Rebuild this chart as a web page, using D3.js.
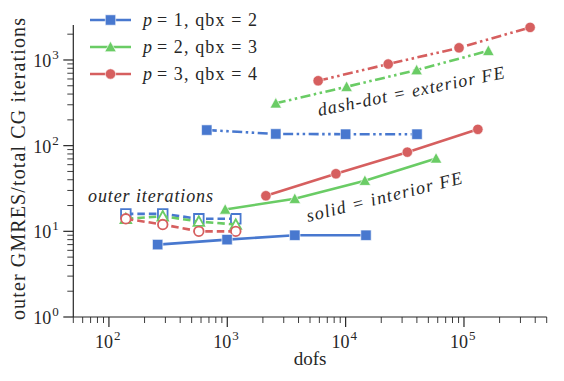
<!DOCTYPE html>
<html>
<head>
<meta charset="utf-8">
<script src="https://cdn.jsdelivr.net/npm/d3@7"></script>
<style>
  body { margin: 0; background: #fff; }
  svg { display: block; font-family: "Liberation Serif", "DejaVu Serif", serif; }
</style>
</head>
<body>
<svg id="chart" width="564" height="381"></svg>
<script>
// colours (seaborn muted)
const colors = ['#4878CF', '#6ACC65', '#D65F5F'];
const legendP = [1, 2, 3];
const legendQbx = [2, 3, 4];
const markers = ['square', 'triangle', 'circle'];

// outer iterations (dashed, hollow markers)
const dofsOuter = [139, 285, 575, 1180];
const itOuter1 = [16, 16, 14, 14];
const itOuter2 = [14, 15, 13, 12];
const itOuter3 = [14, 12, 10, 10];

// interior FE (solid)
const dofsInt1 = [258, 996, 3720, 14860];
const itInt1 = [7, 8, 9, 9];
const dofsInt2 = [960, 3720, 14550, 58100];
const itInt2 = [18, 24, 39, 71];
const dofsInt3 = [2120, 8280, 33200, 131000];
const itInt3 = [26, 47, 84, 155];

// exterior FE (dash-dot)
const dofsExt1 = [671, 2570, 10000, 40100];
const itExt1 = [152, 137, 136, 136];
const dofsExt2 = [2570, 10190, 39800, 160700];
const itExt2 = [312, 487, 762, 1280];
const dofsExt3 = [5860, 22900, 90800, 362000];
const itExt3 = [572, 896, 1387, 2400];

const xTicks = [1e2, 1e3, 1e4, 1e5];
const yTicks = [1e0, 1e1, 1e2, 1e3];

const svg = d3.select('#chart');
const margin = { top: 25, right: 17.3, bottom: 64, left: 73.3 };
const width = 564, height = 381;
const innerWidth = width - margin.left - margin.right;
const innerHeight = height - margin.top - margin.bottom;

const g = svg.append('g').attr('transform', `translate(${margin.left},${margin.top})`);

const x = d3.scaleLog().domain([50, 5e5]).range([0, innerWidth]);
const y = d3.scaleLog().domain([1, 2560]).range([innerHeight, 0]);

// minor ticks
function minorTicks(scale) {
    const [a, b] = scale.domain();
    const out = [];
    for (let e = Math.floor(Math.log10(a)); e <= Math.ceil(Math.log10(b)); e++) {
        for (let m = 2; m <= 9; m++) {
            const v = m * Math.pow(10, e);
            if (v >= a * 0.999 && v <= b * 1.001) out.push(v);
        }
    }
    return out;
}

const axisColor = '#262626';

// x axis
const xAxis = g.append('g').attr('transform', `translate(0,${innerHeight})`);
xAxis.append('line').attr('x1', 0).attr('x2', innerWidth).attr('stroke', axisColor).attr('stroke-width', 1.2);
xAxis.selectAll('line.minor').data(minorTicks(x)).enter().append('line')
    .attr('x1', d => x(d)).attr('x2', d => x(d)).attr('y1', 0).attr('y2', 6)
    .attr('stroke', axisColor).attr('stroke-width', 0.9);
xAxis.selectAll('line.major').data(xTicks).enter().append('line')
    .attr('x1', d => x(d)).attr('x2', d => x(d)).attr('y1', 0).attr('y2', 10)
    .attr('stroke', axisColor).attr('stroke-width', 1.2);
xAxis.selectAll('text.base').data(xTicks).enter().append('text')
    .attr('x', d => x(d) + 4).attr('y', 31).attr('text-anchor', 'end')
    .attr('fill', axisColor).style('font-size', '18px').text('10');
xAxis.selectAll('text.exp').data(xTicks).enter().append('text')
    .attr('x', d => x(d) + 5).attr('y', 23).attr('text-anchor', 'start')
    .attr('fill', axisColor).style('font-size', '13px').text(d => Math.round(Math.log10(d)));

// y axis
const yAxis = g.append('g');
yAxis.append('line').attr('y1', 0).attr('y2', innerHeight).attr('stroke', axisColor).attr('stroke-width', 1.2);
yAxis.selectAll('line.minor').data(minorTicks(y)).enter().append('line')
    .attr('y1', d => y(d)).attr('y2', d => y(d)).attr('x1', 0).attr('x2', -6)
    .attr('stroke', axisColor).attr('stroke-width', 0.9);
yAxis.selectAll('line.major').data(yTicks).enter().append('line')
    .attr('y1', d => y(d)).attr('y2', d => y(d)).attr('x1', 0).attr('x2', -10)
    .attr('stroke', axisColor).attr('stroke-width', 1.2);
yAxis.selectAll('text.base').data(yTicks).enter().append('text')
    .attr('x', -22).attr('y', d => y(d) + 7).attr('text-anchor', 'end')
    .attr('fill', axisColor).style('font-size', '18px').text('10');
yAxis.selectAll('text.exp').data(yTicks).enter().append('text')
    .attr('x', -21).attr('y', d => y(d) - 1).attr('text-anchor', 'start')
    .attr('fill', axisColor).style('font-size', '13px').text(d => Math.round(Math.log10(d)));

// axis labels
svg.append('text').attr('x', margin.left + innerWidth / 2).attr('y', 365)
    .attr('text-anchor', 'middle').attr('fill', axisColor).style('font-size', '19px').text('dofs');
svg.append('text').attr('transform', `translate(25,${margin.top + innerHeight / 2 - 2}) rotate(-90)`)
    .attr('text-anchor', 'middle').attr('fill', axisColor).style('font-size', '20px')
    .attr('textLength', 302).attr('lengthAdjust', 'spacing')
    .text('outer GMRES/total CG iterations');

// markers
function markerPath(type, s) {
    if (type === 'square') return `M${-s},${-s}H${s}V${s}H${-s}Z`;
    if (type === 'triangle') return `M0,${-s * 1.1}L${-s * 1.1},${s * 0.9}L${s * 1.1},${s * 0.9}Z`;
    return d3.symbol(d3.symbolCircle, Math.PI * s * s)();
}

const line = d3.line().x(d => x(d[0])).y(d => y(d[1]));

const dashDot = '10,3.5,2.5,3.5,2.5,3.5';
const dashed = '7.5,4';

const allSeries = [
    { dofs: dofsOuter, it: itOuter1, c: 0, dash: dashed, hollow: true },
    { dofs: dofsOuter, it: itOuter2, c: 1, dash: dashed, hollow: true },
    { dofs: dofsOuter, it: itOuter3, c: 2, dash: dashed, hollow: true },
    { dofs: dofsInt1, it: itInt1, c: 0, dash: null, hollow: false },
    { dofs: dofsInt2, it: itInt2, c: 1, dash: null, hollow: false },
    { dofs: dofsInt3, it: itInt3, c: 2, dash: null, hollow: false },
    { dofs: dofsExt1, it: itExt1, c: 0, dash: dashDot, hollow: false },
    { dofs: dofsExt2, it: itExt2, c: 1, dash: dashDot, hollow: false },
    { dofs: dofsExt3, it: itExt3, c: 2, dash: dashDot, hollow: false }
];

allSeries.forEach(s => {
    const pts = s.dofs.map((d, i) => [d, s.it[i]]);
    g.append('path').datum(pts).attr('d', line)
        .attr('fill', 'none').attr('stroke', colors[s.c]).attr('stroke-width', 2.6)
        .attr('stroke-dasharray', s.dash);
    g.selectAll(null).data(pts).enter().append('path')
        .attr('transform', d => `translate(${x(d[0])},${y(d[1])})`)
        .attr('d', markerPath(markers[s.c], s.hollow ? 4.8 : 5.2))
        .attr('fill', s.hollow ? '#fff' : colors[s.c])
        .attr('stroke', s.hollow ? colors[s.c] : '#fff')
        .attr('stroke-width', s.hollow ? 1.8 : 0.6);
});

// annotations
svg.append('text').attr('x', 88).attr('y', 202).style('font-style', 'italic')
    .style('font-size', '18px').attr('fill', axisColor)
    .attr('textLength', 125).attr('lengthAdjust', 'spacing').text('outer iterations');
svg.append('text').attr('transform', 'translate(319,116) rotate(-11.5)').style('font-style', 'italic')
    .style('font-size', '18px').attr('fill', axisColor)
    .attr('textLength', 190).attr('lengthAdjust', 'spacing').text('dash-dot = exterior FE');
svg.append('text').attr('transform', 'translate(308,222) rotate(-14)').style('font-style', 'italic')
    .style('font-size', '18px').attr('fill', axisColor)
    .attr('textLength', 160).attr('lengthAdjust', 'spacing').text('solid = interior FE');

// legend
const legend = svg.append('g');
legendP.forEach((p, i) => {
    const ly = 20 + i * 27;
    legend.append('line').attr('x1', 90).attr('x2', 131).attr('y1', ly).attr('y2', ly)
        .attr('stroke', colors[i]).attr('stroke-width', 2.6);
    legend.append('path').attr('transform', `translate(110.5,${ly})`)
        .attr('d', markerPath(markers[i], 5.2)).attr('fill', colors[i]).attr('stroke', '#fff').attr('stroke-width', 0.6);
    legend.append('text').attr('x', 143).attr('y', ly + 6).attr('fill', axisColor)
        .style('font-size', '18px').style('font-style', 'italic').text('p');
    legend.append('text').attr('x', 157).attr('y', ly + 6).attr('fill', axisColor)
        .style('font-size', '18px').attr('textLength', 100).attr('lengthAdjust', 'spacing')
        .text(`= ${p}, qbx = ${legendQbx[i]}`);
});
</script>
</body>
</html>
